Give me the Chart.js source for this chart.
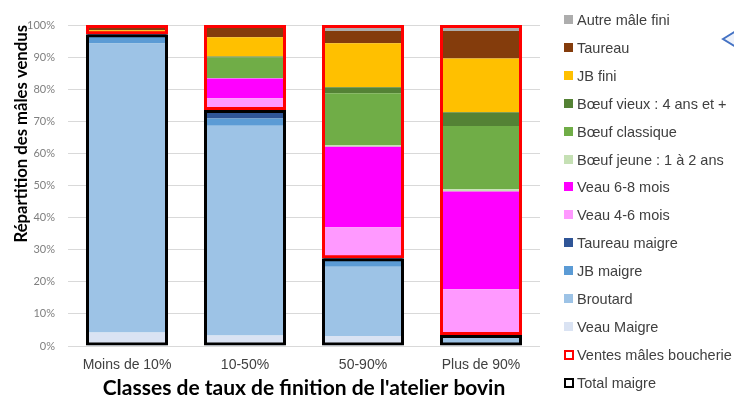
<!DOCTYPE html>
<html>
<head>
<meta charset="utf-8">
<script src="https://cdn.jsdelivr.net/npm/chart.js@4.4.1/dist/chart.umd.min.js"></script>
<style>
	body { margin: 0; background: #fff; }
	#wrap { position: relative; width: 734px; height: 401px; overflow: hidden; }
	#legend { position: absolute; left: 564px; top: 0; font-family: "Liberation Sans", Arial, sans-serif; font-size: 14.5px; color: #404040; }
	#legend .item { position: absolute; left: 0; height: 16px; line-height: 16px; white-space: nowrap; }
	#legend .box { position: absolute; left: 0; top: 3px; width: 9px; height: 9px; box-sizing: border-box; }
	#legend .txt { position: absolute; left: 13px; top: 0; }
	#callout { position: absolute; left: 720px; top: 28px; }
</style>
</head>
<body>
<div id="wrap">
	<canvas id="canvasMales" width="734" height="401"></canvas>
	<div id="legend"></div>
	<svg id="callout" width="20" height="22"><polygon points="3,11 16,3 16,19" fill="#eef2fa" stroke="#4472c4" stroke-width="2"/></svg>
</div>
<script>
"use strict";

var categories = ['Moins de 10%', '10-50%', '50-90%', 'Plus de 90%'];

// parts en % des mâles vendus, du bas vers le haut de la barre
var veauMaigre     = [4.2, 3.3, 3.1, 0.3];
var broutard       = [90.0, 65.3, 21.6, 2.5];
var jbMaigre       = [2.4, 2.3, 1.8, 0.3];
var taureauMaigre  = [0.5, 2.6, 0.8, 0.3];
var veau46         = [0.0, 3.7, 9.7, 14.3];
var veau68         = [0.3, 6.1, 25.1, 30.4];
var boeufJeune     = [0.0, 0.2, 0.5, 0.7];
var boeufClassique = [0.2, 6.4, 16.1, 19.7];
var boeufVieux     = [0.0, 0.3, 1.9, 4.3];
var jbFini         = [0.8, 6.0, 13.7, 16.8];
var taureau        = [1.2, 3.5, 3.8, 8.5];
var autreMale      = [0.4, 0.3, 1.9, 1.9];

var yTicks = [0, 10, 20, 30, 40, 50, 60, 70, 80, 90, 100];

var series = [
	{ label: 'Veau Maigre', data: veauMaigre, color: '#dae3f3' },
	{ label: 'Broutard', data: broutard, color: '#9dc3e6' },
	{ label: 'JB maigre', data: jbMaigre, color: '#5b9bd5' },
	{ label: 'Taureau maigre', data: taureauMaigre, color: '#2f5597' },
	{ label: 'Veau 4-6 mois', data: veau46, color: '#ff99ff' },
	{ label: 'Veau 6-8 mois', data: veau68, color: '#ff00ff' },
	{ label: 'Bœuf jeune : 1 à 2 ans', data: boeufJeune, color: '#c5e0b4' },
	{ label: 'Bœuf classique', data: boeufClassique, color: '#70ad47' },
	{ label: 'Bœuf vieux : 4 ans et +', data: boeufVieux, color: '#548235' },
	{ label: 'JB fini', data: jbFini, color: '#ffc000' },
	{ label: 'Taureau', data: taureau, color: '#843c0c' },
	{ label: 'Autre mâle fini', data: autreMale, color: '#adadad' }
];

function $each(arr, fn) { for (var i = 0; i < arr.length; i++) fn(arr[i], i); }

// total maigre = somme des 4 catégories maigres
var totalMaigre = categories.map(function (c, i) {
	return veauMaigre[i] + broutard[i] + jbMaigre[i] + taureauMaigre[i];
});
var ventesBoucherie = totalMaigre.map(function (v) { return [v, 100]; });
var boxMaigre = totalMaigre.map(function (v) { return [0, v]; });

var datasets = [];
// les contours d'abord => dessinés par-dessus
datasets.push({
	label: 'Ventes mâles boucherie', data: ventesBoucherie, stack: 'red', grouped: false,
	backgroundColor: 'rgba(0,0,0,0)', borderColor: '#ff0000', borderWidth: 3, borderSkipped: false,
	categoryPercentage: 1, barPercentage: 0.695
});
datasets.push({
	label: 'Total maigre', data: boxMaigre, stack: 'black', grouped: false,
	backgroundColor: 'rgba(0,0,0,0)', borderColor: '#000000', borderWidth: 3, borderSkipped: false,
	categoryPercentage: 1, barPercentage: 0.695
});
$each(series, function (s) {
	datasets.push({
		label: s.label, data: s.data, stack: 'main', backgroundColor: s.color, borderWidth: 0,
		categoryPercentage: 1, barPercentage: 0.67
	});
});

new Chart(document.getElementById('canvasMales'), {
	type: 'bar',
	data: { labels: categories, datasets: datasets },
	options: {
		responsive: false,
		animation: false,
		layout: { padding: { top: 25, right: 194, bottom: 0, left: 0 } },
		plugins: { legend: { display: false }, tooltip: { enabled: false } },
		scales: {
			x: {
				stacked: true,
				afterFit: function (axis) { axis.height = 55; },
				grid: { display: false, drawTicks: false },
				border: { display: false },
				ticks: { color: '#404040', padding: 11, maxRotation: 0, font: { family: 'Liberation Sans', size: 14 } },
				title: {
					display: true, text: "Classes de taux de finition de l'atelier bovin", color: '#000',
					font: { family: 'Lato', size: 21, weight: 'bold' }, padding: { top: 0, bottom: 0 }
				}
			},
			y: {
				stacked: true, min: 0, max: 100,
				afterFit: function (axis) { axis.width = 68; },
				afterBuildTicks: function (axis) { axis.ticks = yTicks.map(function (v) { return { value: v }; }); },
				grid: { color: '#d9d9d9', drawTicks: false },
				border: { display: false },
				ticks: {
					color: '#7f7f7f', padding: 13, font: { family: 'Lato', size: 11 },
					callback: function (v) { return v + '%'; }
				},
				title: {
					display: true, text: 'Répartition des mâles vendus', color: '#000', align: 'end',
					font: { family: 'Lato', size: 16.7, weight: 'bold' }, padding: { top: 12, bottom: 0 }
				}
			}
		}
	}
});

// légende à droite, ordre comme dans Excel
var legendItems = series.slice().reverse().map(function (s) { return { label: s.label, fill: s.color }; });
legendItems.push({ label: 'Ventes mâles boucherie', stroke: '#ff0000' });
legendItems.push({ label: 'Total maigre', stroke: '#000000' });

var legendDiv = document.getElementById('legend');
$each(legendItems, function (it, i) {
	var item = document.createElement('div');
	item.className = 'item';
	item.style.top = (20 + i * 27.9 - 8) + 'px';
	var box = document.createElement('span');
	box.className = 'box';
	if (it.fill) {
		box.style.background = it.fill;
	} else {
		box.style.border = '2.5px solid ' + it.stroke;
		box.style.width = '10px';
		box.style.height = '10px';
		box.style.top = '3px';
	}
	var txt = document.createElement('span');
	txt.className = 'txt';
	txt.textContent = it.label;
	item.appendChild(box);
	item.appendChild(txt);
	legendDiv.appendChild(item);
});
</script>
</body>
</html>
